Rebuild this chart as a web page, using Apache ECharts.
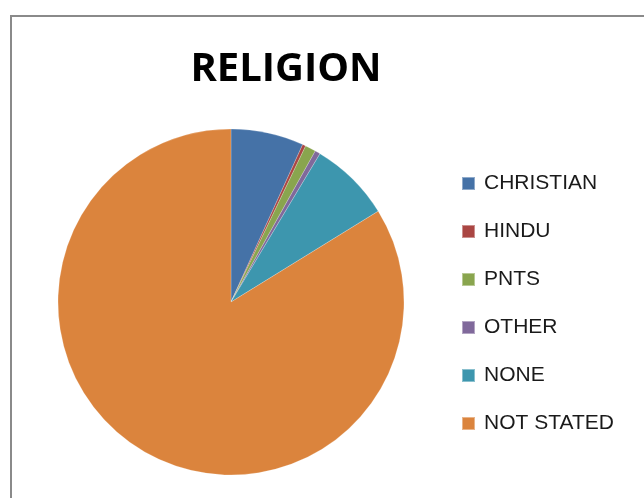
<html>
<head>
    <meta charset="utf-8"/>
    <title>RELIGION</title>
    <script src="https://cdn.jsdelivr.net/npm/echarts@6/dist/echarts.min.js"></script>
    <style>
            body {
                margin: 0;
                padding: 0;
                background: #fff;
            }
            #chart {
                width: 644px;
                height: 498px;
            }
    </style>
</head>
<body>
<div id="chart"></div>
<script type="text/javascript">
// share of each answer (percent)
let categories = ['CHRISTIAN', 'HINDU', 'PNTS', 'OTHER', 'NONE', 'NOT STATED'];
let values = [6.8, 0.3, 1.0, 0.5, 7.6, 83.8];
let colors = ['#4572A7', '#AA4643', '#89A54E', '#80699B', '#3D96AE', '#DB843D'];

let chart = echarts.init(document.getElementById('chart'));

let data = categories.map((name, i) => {
  return {name: name, value: values[i]};
});

chart.setOption({
  animation: false,
  color: colors,
  title: {
    text: 'RELIGION',
    left: 286,
    textAlign: 'center',
    top: 50,
    padding: 0,
    textStyle: {
      fontFamily: 'Open Sans',
      fontWeight: 'bold',
      fontSize: 40,
      color: '#000'
    }
  },
  graphic: [
    {
      type: 'rect',
      shape: {x: 11, y: 16, width: 700, height: 600},
      style: {fill: 'none', stroke: '#8a8a8a', lineWidth: 2},
      silent: true
    }
  ],
  legend: {
    orient: 'vertical',
    left: 461,
    top: 173,
    padding: 0,
    itemWidth: 13,
    itemHeight: 13,
    itemGap: 27,
    icon: 'rect',
    data: categories,
    textStyle: {
      fontFamily: 'Liberation Sans',
      fontSize: 21,
      lineHeight: 20,
      color: '#1a1a1a',
      padding: [0, 0, 0, 4]
    }
  },
  series: [
    {
      type: 'pie',
      center: [231, 302],
      radius: 173,
      startAngle: 90,
      clockwise: true,
      label: {show: false},
      labelLine: {show: false},
      itemStyle: {
        borderColor: 'rgba(255,255,255,0.4)',
        borderWidth: 0.5
      },
      data: data
    }
  ]
});
</script>
</body>
</html>
